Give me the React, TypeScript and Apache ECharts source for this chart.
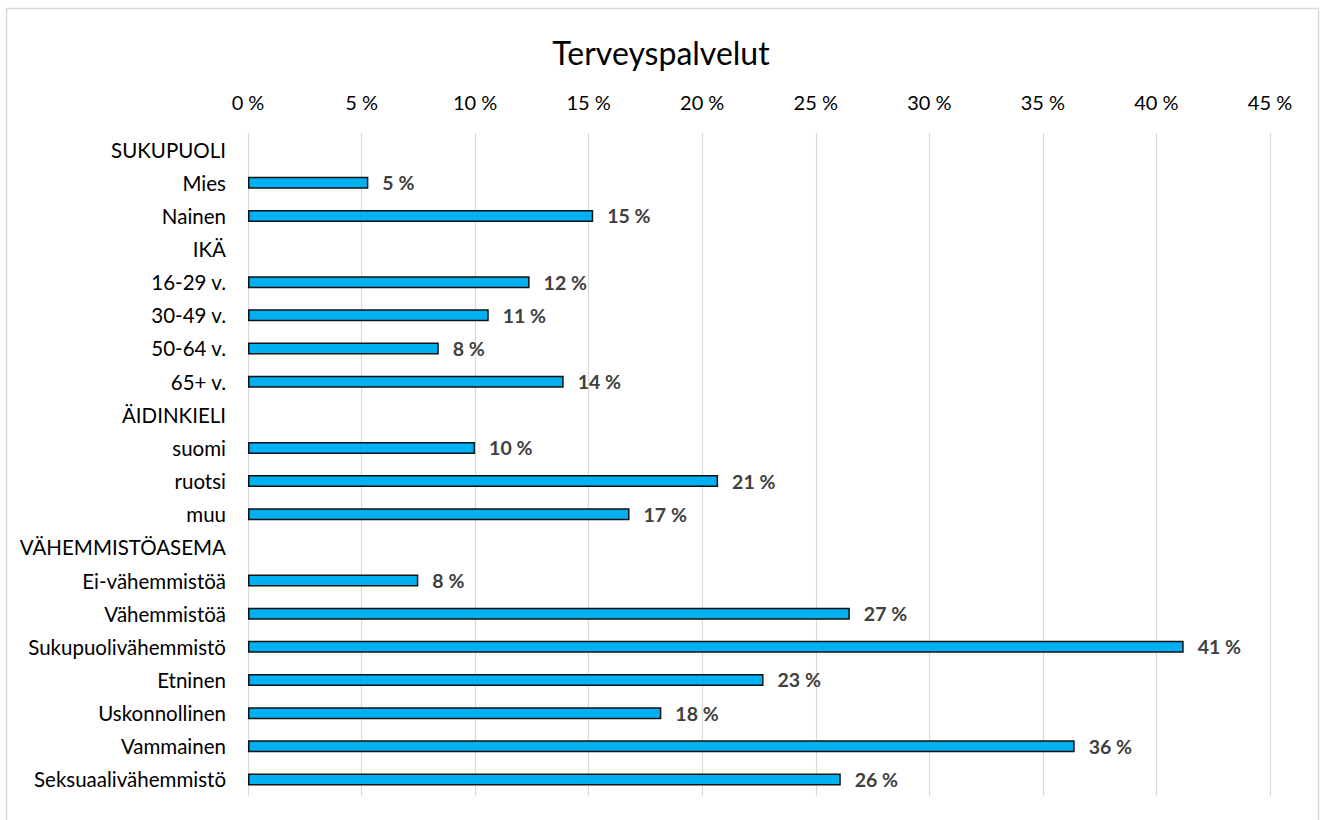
import React, { useEffect, useRef } from "react";
import * as echarts from "echarts";

const TITLE = "Terveyspalvelut";
const categories = [
  "SUKUPUOLI", "Mies", "Nainen",
  "IKÄ", "16-29 v.", "30-49 v.", "50-64 v.", "65+ v.",
  "ÄIDINKIELI", "suomi", "ruotsi", "muu",
  "VÄHEMMISTÖASEMA", "Ei-vähemmistöä", "Vähemmistöä", "Sukupuolivähemmistö",
  "Etninen", "Uskonnollinen", "Vammainen", "Seksuaalivähemmistö",
];
const values: (number | null)[] = [
  null, 5.3, 15.2,
  null, 12.4, 10.6, 8.4, 13.9,
  null, 10.0, 20.7, 16.8,
  null, 7.5, 26.5, 41.2,
  22.7, 18.2, 36.4, 26.1,
];
const X_MIN = 0;
const X_MAX = 45;
const X_STEP = 5;

const FONT = "Lato, 'Open Sans', sans-serif";

export default function App() {
  const ref = useRef<HTMLDivElement>(null);
  useEffect(() => {
    if (!ref.current) return;
    const chart = echarts.init(ref.current, undefined, { renderer: "svg" });
    chart.setOption({
      animation: false,
      backgroundColor: "#ffffff",
      title: {
        text: TITLE,
        left: "center",
        top: 31,
        textStyle: { fontFamily: FONT, fontSize: 32, fontWeight: "normal", color: "#000000" },
      },
      graphic: [
        {
          type: "rect",
          shape: { x: 6.5, y: 8.5, width: 1312, height: 830 },
          style: { fill: "none", stroke: "#d9d9d9", lineWidth: 1.5 },
          silent: true,
        },
      ],
      grid: { left: 248, right: 52, top: 133, bottom: 24, containLabel: false },
      xAxis: {
        type: "value",
        position: "top",
        min: X_MIN,
        max: X_MAX,
        interval: X_STEP,
        axisLine: { show: false },
        axisTick: { show: false },
        splitLine: { show: true, lineStyle: { color: "#d9d9d9", width: 1.2 } },
        axisLabel: {
          formatter: "{value} %",
          fontFamily: FONT,
          fontSize: 20,
          color: "#000000",
          margin: 21,
        },
      },
      yAxis: {
        type: "category",
        data: categories,
        inverse: true,
        axisLine: { show: false },
        axisTick: { show: false },
        splitLine: { show: false },
        axisLabel: { fontFamily: FONT, fontSize: 20.5, color: "#000000", margin: 22 },
      },
      series: [
        {
          type: "bar",
          data: values,
          barWidth: 12,
          itemStyle: { color: "#00b0f0", borderColor: "#111111", borderWidth: 1.5 },
          label: {
            show: true,
            position: "right",
            distance: 14,
            fontFamily: FONT,
            fontSize: 19.5,
            fontWeight: "bold",
            color: "#404040",
            formatter: (p: any) => (p.value == null ? "" : Math.round(p.value) + " %"),
          },
        },
      ],
    });
    return () => chart.dispose();
  }, []);
  return (
    <div
      ref={ref}
      style={{ position: "fixed", left: 0, top: 0, width: 1322, height: 820 }}
    />
  );
}
